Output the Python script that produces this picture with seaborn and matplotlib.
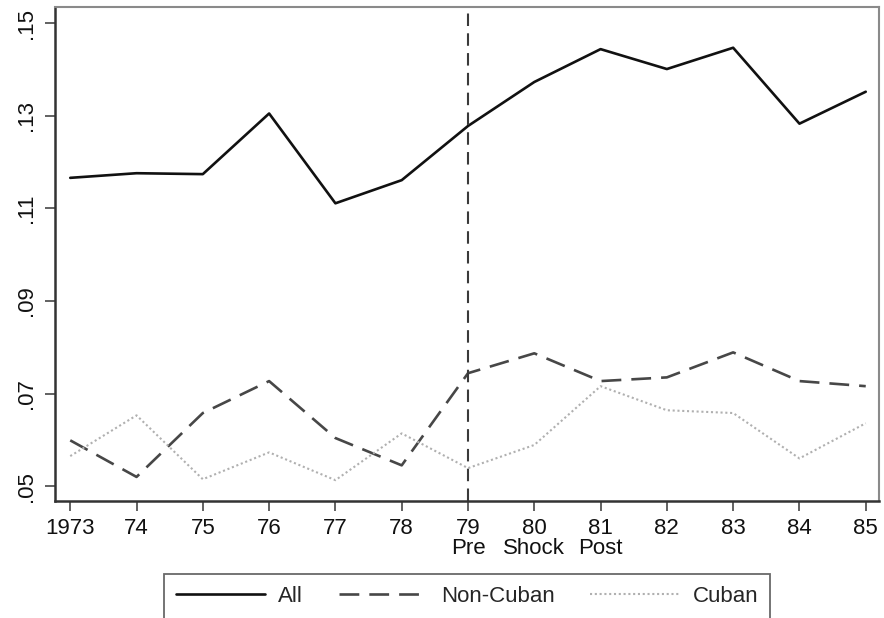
import matplotlib
matplotlib.use("Agg")
import matplotlib.pyplot as plt
import seaborn as sns
import pandas as pd

# Unemployment rate by year, Miami
years = [1973, 1974, 1975, 1976, 1977, 1978, 1979, 1980, 1981, 1982, 1983, 1984, 1985]
rate_all = [0.1166, 0.1176, 0.1174, 0.1305, 0.1111, 0.1161, 0.1278, 0.1373, 0.1444, 0.1401, 0.1447, 0.1283, 0.1352]
rate_non_cuban = [0.0599, 0.0520, 0.0658, 0.0727, 0.0604, 0.0545, 0.0744, 0.0787, 0.0727, 0.0735, 0.0789, 0.0727, 0.0716]
rate_cuban = [0.0565, 0.0653, 0.0515, 0.0573, 0.0513, 0.0614, 0.0539, 0.0589, 0.0716, 0.0664, 0.0658, 0.0560, 0.0636]

series_names = ["All", "Non-Cuban", "Cuban"]
tick_labels = ["1973", "74", "75", "76", "77", "78", "79\nPre", "80\nShock", "81\nPost", "82", "83", "84", "85"]
y_ticks = [0.05, 0.07, 0.09, 0.11, 0.13, 0.15]
y_tick_labels = [".05", ".07", ".09", ".11", ".13", ".15"]
shock_year = 1979

df = pd.concat([
    pd.DataFrame({"year": years, "rate": vals, "group": name})
    for name, vals in zip(series_names, [rate_all, rate_non_cuban, rate_cuban])
], ignore_index=True)

sns.set_theme(style="white")
plt.rcParams["font.family"] = ["Liberation Sans", "DejaVu Sans"]

fig = plt.figure(figsize=(8.84, 6.18), dpi=100)
ax = fig.add_axes([55 / 884, 117 / 618, 824 / 884, 494 / 618])

styles = {
    "All": dict(color="#111111", lw=1.9, dashes=""),
    "Non-Cuban": dict(color="#474747", lw=1.9, dashes=(7.5, 3.8)),
    "Cuban": dict(color="#b0b0b0", lw=1.5, dashes=(1.0, 1.3)),
}
for name in series_names:
    st = styles[name]
    sub = df[df["group"] == name]
    kw = {} if st["dashes"] == "" else {"dashes": st["dashes"]}
    sns.lineplot(data=sub, x="year", y="rate", ax=ax, color=st["color"],
                 linewidth=st["lw"], label=name, **kw)

ax.axvline(shock_year, color="#3a3a3a", lw=1.5, linestyle=(0, (6, 3.5)), label="_nolegend_")

ax.set_xlim(1972.77, 1985.2)
ax.set_ylim(0.0468, 0.1535)
ax.set_xticks(years)
ax.set_xticklabels(tick_labels, linespacing=0.95)
ax.set_yticks(y_ticks)
ax.set_yticklabels(y_tick_labels, rotation=90, va="center")
ax.set_xlabel("")
ax.set_ylabel("")

ax.tick_params(axis="both", which="major", labelsize=16, length=7, width=1.3,
               color="#555555", labelcolor="#111111", bottom=True, left=True)
ax.tick_params(axis="x", pad=5)
ax.tick_params(axis="y", pad=6)

for side in ["left", "bottom"]:
    ax.spines[side].set_color("#333333")
    ax.spines[side].set_linewidth(1.8)
for side in ["top", "right"]:
    ax.spines[side].set_color("#8a8a8a")
    ax.spines[side].set_linewidth(1.5)

leg = ax.legend(loc="upper center", bbox_to_anchor=(467 / 884, 1 - 574 / 618),
                bbox_transform=fig.transFigure, ncol=3, fontsize=16,
                frameon=True, fancybox=False, handlelength=4.0,
                handletextpad=0.6, columnspacing=1.6, borderpad=0.55,
                borderaxespad=0)
frame = leg.get_frame()
frame.set_edgecolor("#444444")
frame.set_linewidth(1.3)

fig.savefig("out.png", dpi=100)
